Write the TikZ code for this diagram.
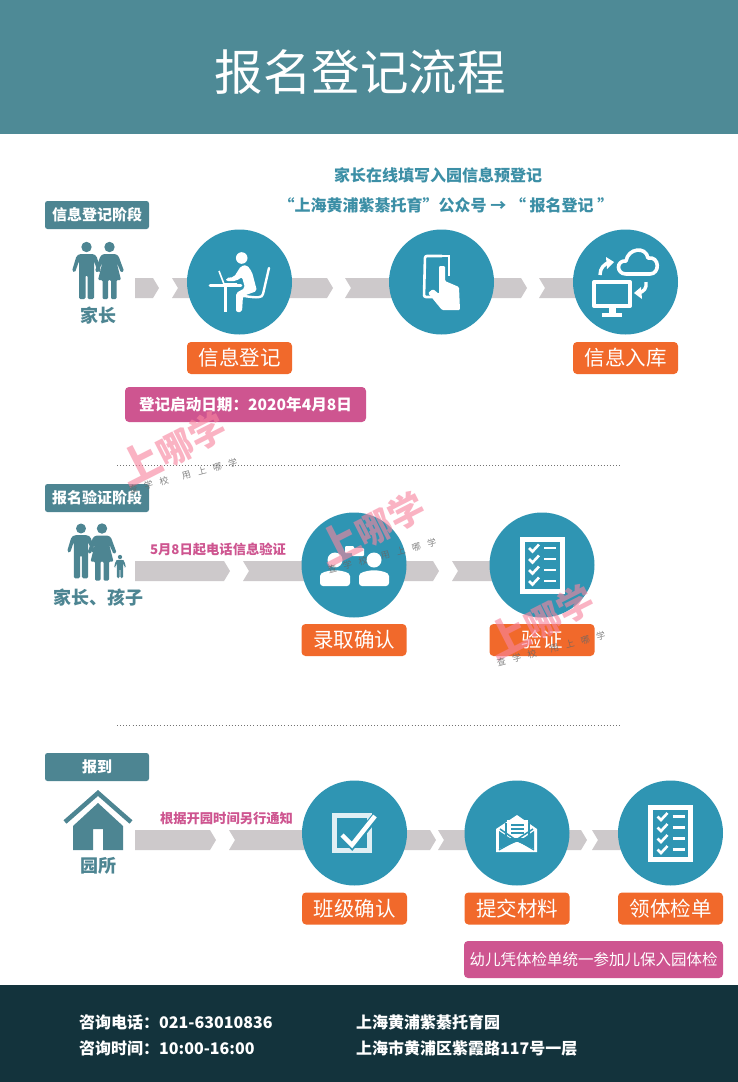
\documentclass[tikz,border=0pt]{standalone}
\usepackage{fontspec}
\setmainfont{Noto Sans CJK SC}
\usetikzlibrary{calc}
\definecolor{hdr}{HTML}{4E8A96}
\definecolor{ftr}{HTML}{13333C}
\definecolor{circ}{HTML}{2F95B3}
\definecolor{tealt}{HTML}{4D8592}
\definecolor{orng}{HTML}{F1692B}
\definecolor{pnk}{HTML}{CE5590}
\definecolor{gry}{HTML}{CDC9CB}
\definecolor{blut}{HTML}{3C8FA6}
\definecolor{wm}{HTML}{F7859F}
\newcommand{\fs}[1]{\fontsize{#1}{#1}\selectfont}
\tikzset{
  tagbox/.style={fill=tealt,rounded corners=2.5pt,text=white,font=\fs{15}\bfseries,minimum width=104pt,minimum height=28pt,inner sep=0pt},
  orngbox/.style={fill=orng,rounded corners=4pt,text=white,font=\fs{20.5},minimum width=105pt,minimum height=32pt,inner sep=0pt},
  pnkbox/.style={fill=pnk,rounded corners=4pt,text=white,inner sep=0pt},
  stepcirc/.style={circle,fill=circ,minimum size=105pt,inner sep=0pt},
  who/.style={text=tealt,font=\fs{18}\bfseries},
  note/.style={text=pnk,font=\fs{13.3}\bfseries},
  blue/.style={text=blut,font=\fs{16}\bfseries},
  foot/.style={text=white,font=\fs{16}\bfseries,anchor=west},
  dots/.style={draw=black!55,line width=.8pt,dash pattern=on .9pt off 2.2pt},
}
\newcommand{\chevA}[3]{\fill[gry] (#1,#3-10)--(#2-6,#3-10)--(#2,#3)--(#2-6,#3+10)--(#1,#3+10)--cycle;}
\newcommand{\chevB}[3]{\fill[gry] (#1,#3-10)--(#2,#3-10)--(#2,#3+10)--(#1,#3+10)--(#1+6,#3)--cycle;}
\newcommand{\man}[4]{\begin{scope}[shift={(#1,#2)},scale=#3]
 \fill[#4] (0,0) circle (5.2);
 \fill[#4,rounded corners=1.5pt] (-7,7)--(7,7)--(10,9)--(14.5,24)--(11.5,25.5)--(7.5,14)--(7.5,52)--(1,52)--(1,28)--(-1,28)--(-1,52)--(-7.5,52)--(-7.5,14)--(-11.5,25.5)--(-14.5,24)--(-10,9)--cycle;
\end{scope}}
\newcommand{\woman}[3]{\begin{scope}[shift={(#1,#2)}]
 \fill[#3] (0,0) circle (5.2);
 \fill[#3,rounded corners=1.2pt] (-6,7)--(6,7)--(9,9)--(14.5,24)--(11.5,25.5)--(7,15)--(11.5,33)--(7,33)--(7,52)--(1.5,52)--(1.5,33)--(-1.5,33)--(-1.5,52)--(-7,52)--(-7,33)--(-11.5,33)--(-7,15)--(-11.5,25.5)--(-14.5,24)--(-9,9)--cycle;
\end{scope}}
\newcommand{\checklist}[2]{\begin{scope}[shift={(#1,#2)}]
 \draw[white,line width=5pt] (-20,-26) rectangle (20,26);
 \foreach \yy in {-17,-6,5,16}{
  \draw[white,line width=2.6pt] (-13,\yy)--(-9.5,\yy+3.5)--(-3,\yy-3.5);
  \draw[white,line width=2.4pt] (2,\yy)--(14,\yy);}
\end{scope}}
\newcommand{\wsp}{\hspace{7pt}}
\newcommand{\wmark}[2]{%
 \node[text=wm,opacity=.62,font=\fs{36}\bfseries,inner sep=0pt,rotate=27] at (#1,#2) {{\fs{42}上}哪学};
 \node[text=black!60,opacity=.8,font=\fs{9},inner sep=0pt,rotate=15] at ($(#1,#2)+(11,29)$) {查\wsp 学\wsp 校\wsp\wsp 用\wsp 上\wsp 哪\wsp 学};
}
\begin{document}
\begin{tikzpicture}[x=1pt,y=-1pt]
\useasboundingbox (0,0) rectangle (738,1082);
\fill[white] (0,0) rectangle (738,1082);
\fill[hdr] (0,0) rectangle (738,134);
\fill[ftr] (0,985) rectangle (738,1082);
\node[text=white,font=\fs{48.5},inner sep=0pt] (title) at (360,72) {报名登记流程};
\node[blue,inner sep=0pt] (t1) at (438,175) {家长在线填写入园信息预登记};
\node[blue,inner sep=0pt] (t2) at (446,205) {“上海黄浦紫綦托育”公众号 → “ 报名登记 ”};
\coordinate (d1a) at (117,465); \coordinate (d1b) at (622,465);
\coordinate (d2a) at (117,725); \coordinate (d2b) at (622,725);
\draw[dots] (d1a)--(d1b);
\draw[dots] (d2a)--(d2b);
\chevA{135}{159}{288}\chevB{172}{200}{288}
\chevA{280}{333}{288}\chevB{345}{400}{288}
\chevA{480}{527}{288}\chevB{539}{590}{288}
\chevA{135}{230}{571}\chevB{243}{320}{571}
\chevA{390}{439}{571}\chevB{452}{500}{571}
\chevA{135}{216}{840}\chevB{229}{320}{840}
\chevA{390}{436}{840}\chevB{438}{480}{840}
\chevA{555}{587}{840}\chevB{592}{630}{840}
\node[tagbox] (tag1) at (97,215) {信息登记阶段};
\node[tagbox] (tag2) at (97,498) {报名验证阶段};
\node[tagbox] (tag3) at (97,767) {报到};
\man{86.5}{247}{1}{tealt}
\woman{109.5}{247}{tealt}
\node[who,inner sep=0pt] (w1) at (98,316) {家长};
\man{81}{528.5}{.96}{tealt}
\woman{102}{528.5}{tealt}
\man{120}{557}{.41}{tealt}
\node[who,inner sep=0pt] (w2) at (98,598) {家长、孩子};
\fill[tealt] (73,850)--(73,826)--(98,803)--(123,826)--(123,850)--(103,850)--(103,829)--(93,829)--(93,850)--cycle;
\draw[tealt,line width=4.5pt] (65,822)--(98,793)--(131,822);
\node[who,inner sep=0pt] (w3) at (98,866) {园所};
\node[stepcirc] (c1) at (239.5,282) {};
\node[stepcirc] (c2) at (441.5,282) {};
\node[stepcirc] (c3) at (625.5,282) {};
\node[stepcirc] (c4) at (354,565) {};
\node[stepcirc] (c5) at (542,565) {};
\node[stepcirc] (c6) at (354.5,833) {};
\node[stepcirc] (c7) at (517,833) {};
\node[stepcirc] (c8) at (670.5,833) {};
% person at desk
\fill[white] (241.7,258) circle (5.8);
\draw[white,line width=2.6pt,line cap=round] (210,285.5)--(241,285.5);
\draw[white,line width=3pt] (225,285.5)--(225,311.5);
\draw[white,line width=1.6pt,line join=round] (219,271)--(224,284)--(237,284);
\fill[white,rounded corners=2pt] (241,266)--(247,265)--(252,272)--(257,291)--(243,296)--(242,312)--(236,312)--(236,293)--(245,288)--(242,277)--(236,281)--(226,281)--(226,278)--(234,277)--cycle;
\draw[white,line width=2.4pt,line cap=round] (269,268)--(263,294) .. controls (262,298) and (258,298) .. (244,296);
% phone
\draw[white,line width=2.6pt,rounded corners=2pt] (442,256)--(425,256)--(424,297)--(432,297);
\draw[white,line width=2.6pt] (425,256)--(449,256)--(449,276);
\fill[white,rounded corners=1.2pt] (439,266)--(445,266)--(445,281)--(459,287)--(460,310)--(442,310)--(428,293)--(433,289)--(439,294)--cycle;
% cloud and computer
\draw[white,line width=3.6pt,line join=round] (626,274) .. controls (616,274) and (616,260) .. (626,261) .. controls (628,248) and (646,246) .. (648,258) .. controls (660,256) and (660,274) .. (650,274) -- cycle;
\draw[white,line width=4pt,line join=round] (594,282) rectangle (630,306);
\fill[white] (609,308) rectangle (616,314);
\fill[white] (602,313) rectangle (622,317);
\draw[white,line width=3.4pt] (600,275) .. controls (600,268) and (604,264) .. (610,262);
\fill[white] (606,257)--(614,262)--(607,269)--cycle;
\draw[white,line width=3.4pt] (646,282) .. controls (647,288) and (644,292) .. (638,293);
\fill[white] (642,299)--(634,293)--(641,287)--cycle;
% two people
\fill[white] (335,560) circle (7.5);
\fill[white,rounded corners=3pt] (320,586)--(320,579) .. controls (320,572) and (328,571) .. (335,570) .. controls (342,571) and (350,572) .. (350,579)--(350,586)--cycle;
\fill[white] (374,560) circle (7.5);
\fill[white,rounded corners=3pt] (359,586)--(359,579) .. controls (359,572) and (367,571) .. (374,570) .. controls (381,571) and (389,572) .. (389,579)--(389,586)--cycle;
\fill[white,rounded corners=1pt] (345,546) rectangle (354,553);
\fill[white,rounded corners=1pt] (352,548) rectangle (364,556);
\checklist{542}{565}
\checklist{670.5}{833.5}
% checkbox
\draw[white!85!circ,line width=5pt] (334.5,815.5) rectangle (369.5,850.5);
\draw[circ,line width=8pt] (342,835)--(352,845)--(376,816);
\draw[white,line width=4.5pt] (342,835)--(352,845)--(375,816);
% envelope
\fill[white] (496,852)--(496,829)--(517,815)--(537,829)--(537,852)--cycle;
\fill[circ] (505,823) rectangle (530,842);
\fill[white] (507,820) rectangle (528,838);
\draw[circ,line width=1.3pt] (511,825)--(524,825) (511,829)--(524,829) (511,833)--(524,833);
\fill[circ] (499,831)--(516,842)--(499,849)--cycle;
\fill[circ] (534,831)--(518,842)--(534,849)--cycle;
\draw[circ,line width=1.2pt] (499,850)--(517,840)--(534,850);
\draw[circ,line width=1.5pt] (500,829)--(516,840)--(533,829);
\node[orngbox] (o1) at (239.5,358) {信息登记};
\node[orngbox] (o2) at (625.5,358) {信息入库};
\node[orngbox] (o3) at (354,640) {录取确认};
\node[orngbox] (o4) at (542,640) {验证};
\node[orngbox] (o5) at (354.5,908.5) {班级确认};
\node[orngbox] (o6) at (517,908.5) {提交材料};
\node[orngbox] (o7) at (670.5,908.5) {领体检单};
\node[pnkbox,minimum width=241pt,minimum height=35pt,font=\fs{15.6}\bfseries] (p1) at (245.5,404.5) {登记启动日期：2020年4月8日};
\node[pnkbox,minimum width=259pt,minimum height=37pt,font=\fs{15.5}] (p2) at (593.5,959.5) {幼儿凭体检单统一参加儿保入园体检};
\node[note,inner sep=0pt] (n1) at (218,549) {5月8日起电话信息验证};
\node[note,inner sep=0pt] (n2) at (226.5,818) {根据开园时间另行通知};
\node[foot,inner sep=0pt] (f1) at (79,1022) {咨询电话：021-63010836};
\node[foot,inner sep=0pt] (f2) at (79,1048) {咨询时间：10:00-16:00};
\node[foot,inner sep=0pt] (f3) at (356,1022) {上海黄浦紫綦托育园};
\node[foot,inner sep=0pt] (f4) at (356,1048) {上海市黄浦区紫霞路117号一层};
\wmark{172}{447}
\wmark{371}{527}
\wmark{540}{620}
\end{tikzpicture}
\end{document}
